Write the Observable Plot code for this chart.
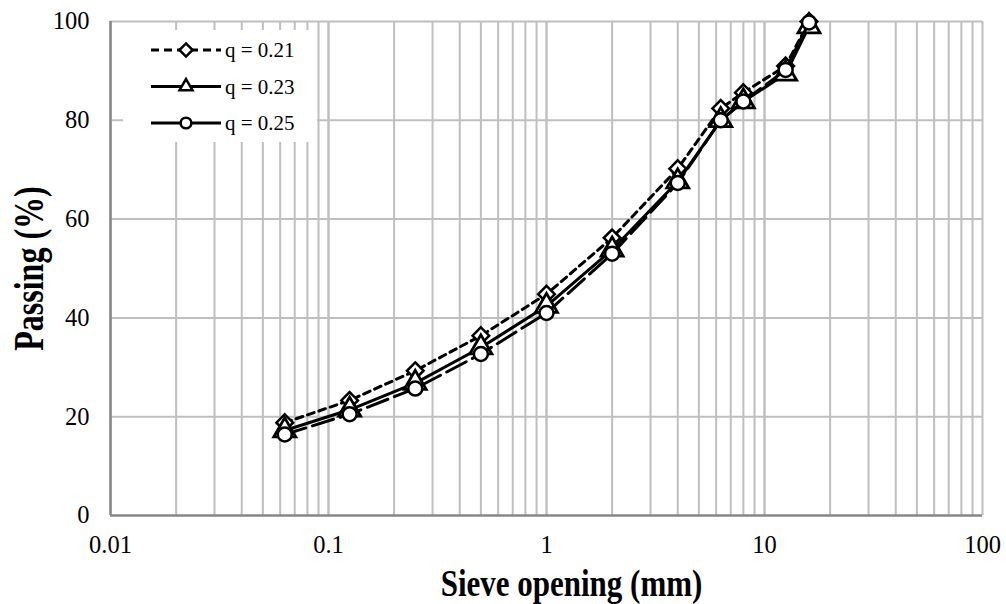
<!DOCTYPE html>
<html>
<head>
<meta charset="utf-8">
<script src="https://cdn.jsdelivr.net/npm/d3@7"></script>
<script src="https://cdn.jsdelivr.net/npm/@observablehq/plot@0.6"></script>
<style>
  html, body { margin: 0; padding: 0; background: #fff; }
  #wrap { position: relative; width: 1006px; height: 604px; }
  #legend { position: absolute; left: 123px; top: 30px; width: 194px; height: 112px; background: #fff; }
</style>
</head>
<body>
<div id="wrap"><div id="legend"></div></div>
<script>
const sieve = [0.063, 0.125, 0.25, 0.5, 1, 2, 4, 6.3, 8, 12.5, 16];
const q021 = [18.8, 23.3, 29.3, 36.4, 44.8, 56.2, 70.2, 82.4, 85.6, 91.0, 100];
const q023 = [17.2, 21.4, 26.8, 34.0, 42.4, 53.8, 67.6, 80.0, 83.8, 89.4, 99.0];
const q025 = [16.4, 20.5, 25.7, 32.7, 41.0, 53.0, 67.3, 80.0, 83.8, 90.2, 99.8];
const seriesNames = ["q = 0.21", "q = 0.23", "q = 0.25"];
const xTickLabels = [0.01, 0.1, 1, 10, 100];
const yTicks = [0, 20, 40, 60, 80, 100];
const xTitle = "Sieve opening (mm)";
const yTitle = "Passing (%)";

const seriesValues = [q021, q023, q025];
const styles = [
  {dash: "7,5", symbol: "diamond2", r: 7.5, sw: 2.5},
  {dash: null, symbol: "triangle2", r: 10.5, sw: 2.8},
  {dash: "22,7", symbol: "circle", r: 7, sw: 2.5}
];
const series = seriesNames.map((name, i) => sieve.map((x, j) => ({x, y: seriesValues[i][j], name})));

const minorX = [];
for (const d of [0.01, 0.1, 1, 10]) for (let k = 1; k <= 10; k++) minorX.push(+(d * k).toPrecision(3));

const font = "'Liberation Serif', 'Times New Roman', serif";
const marks = [
  Plot.ruleX(minorX, {stroke: "#bfbfbf", strokeWidth: 2}),
  Plot.ruleY(yTicks.filter(d => d > 0), {stroke: "#bfbfbf", strokeWidth: 2}),
  Plot.ruleX([0.01], {stroke: "#878787", strokeWidth: 2.5}),
  Plot.ruleY([0], {stroke: "#878787", strokeWidth: 2.5}),
  Plot.axisX({ticks: xTickLabels, tickFormat: d => String(d), tickSize: 0, tickPadding: 20, fontSize: 24.5, label: null}),
  Plot.axisY({ticks: yTicks, tickSize: 0, tickPadding: 21, fontSize: 24.5, label: null}),
  Plot.text([xTitle], {frameAnchor: "bottom", dy: 80, dx: 25, lineAnchor: "bottom", textAnchor: "middle", fontSize: 31, fontWeight: "bold", text: d => d}),
  Plot.text([yTitle], {frameAnchor: "left", dx: -68, rotate: -90, lineAnchor: "bottom", textAnchor: "middle", fontSize: 32, fontWeight: "bold", text: d => d})
];
series.forEach((s, i) => {
  marks.push(Plot.line(s, {x: "x", y: "y", stroke: "black", strokeWidth: 3, strokeDasharray: styles[i].dash}));
  marks.push(Plot.dot(s, {x: "x", y: "y", symbol: () => styles[i].symbol, r: styles[i].r, fill: "white", stroke: "black", strokeWidth: styles[i].sw}));
});

const chart = Plot.plot({
  width: 1006,
  height: 604,
  marginLeft: 110,
  marginRight: 24,
  marginTop: 21,
  marginBottom: 89,
  style: {fontFamily: font, color: "black", background: "white"},
  x: {type: "log", domain: [0.01, 100]},
  y: {domain: [0, 100]},
  symbol: {type: "identity"},
  marks
});
document.getElementById("wrap").prepend(chart);

// stretch the axis titles vertically, as in the reference
d3.select(chart).selectAll("text").each(function () {
  const t = this.textContent;
  if (t === xTitle || t === yTitle) {
    const tr = this.getAttribute("transform") || "";
    this.setAttribute("transform", tr + (t === xTitle ? " scale(1,1.2)" : " scale(1,1.3)"));
  }
});

// legend
const lw = 194, lh = 112;
const lsvg = d3.select("#legend").append("svg").attr("width", lw).attr("height", lh);
seriesNames.forEach((name, i) => {
  const cy = 20 + i * 36.5;
  const g = lsvg.append("g");
  g.append("line").attr("x1", 28).attr("x2", 98).attr("y1", cy).attr("y2", cy)
    .attr("stroke", "black").attr("stroke-width", 3)
    .attr("stroke-dasharray", i === 0 ? "8,5" : null);
  const sym = i === 0 ? d3.symbolDiamond2 : i === 1 ? d3.symbolTriangle2 : d3.symbolCircle;
  const size = i === 0 ? 110 : i === 1 ? 120 : 90;
  g.append("path").attr("d", d3.symbol(sym, size)()).attr("transform", `translate(63,${cy})`)
    .attr("fill", "white").attr("stroke", "black").attr("stroke-width", 2.5);
  g.append("text").attr("x", 102).attr("y", cy).attr("dy", "0.35em")
    .attr("font-family", font).attr("font-size", 21).text(name);
});
</script>
</body>
</html>
